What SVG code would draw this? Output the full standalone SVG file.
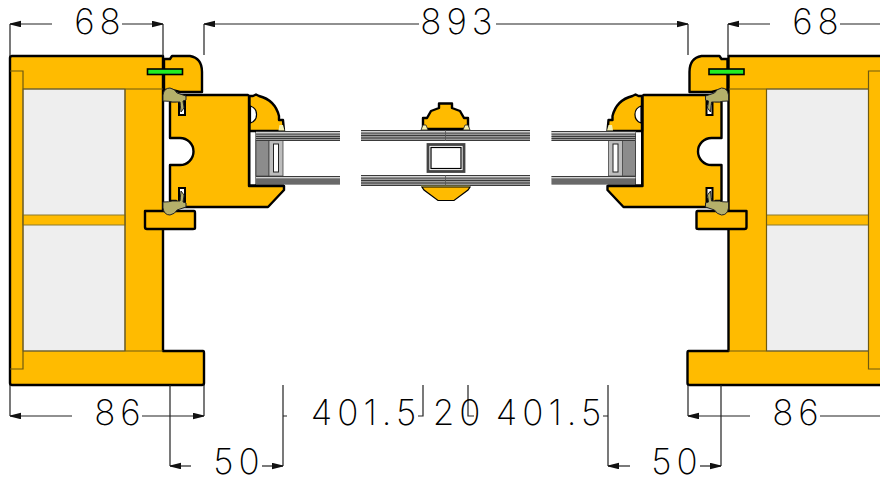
<svg xmlns="http://www.w3.org/2000/svg" xmlns:xlink="http://www.w3.org/1999/xlink" width="880" height="482" viewBox="0 0 880 482">
<style>
.y{fill:#ffbb00;stroke:#000;stroke-width:2.4;stroke-linejoin:round}
.t{fill:none;stroke:#6f5a10;stroke-width:1.2}
.s{fill:#b5b06a;stroke:#222;stroke-width:1}
.d{fill:none;stroke:#222;stroke-width:1.2}
.l{stroke:#222;stroke-width:0.800;fill:none}
.w{stroke:#fff;stroke-width:0.800;fill:none}
.n{font-family:"Inter","Liberation Sans",sans-serif;font-weight:150;font-size:35px;fill:#000;text-anchor:middle;letter-spacing:5px}
</style>
<defs>
<marker id="a" markerWidth="12" markerHeight="7" refX="11" refY="3.250" orient="auto-start-reverse" markerUnits="userSpaceOnUse"><path d="M0 0L11 2.700V3.800L0 6.500Z" fill="#111"/></marker>
<g id="frame">
<path class="y" d="M12 56H163V351H203Q204 351 204 353V383Q204 385 202 385H12Q10 385 10 383V58Q10 56 12 56Z"/>
<rect x="23" y="89" width="102" height="262" fill="#eeeeee" stroke="#777" stroke-width="1"/>
<rect x="23" y="215" width="102" height="10" fill="#ffbb00" stroke="#8a7a30" stroke-width="1"/>
<path class="t" d="M10 71H23V369H10M23 89H163M23 351H163M125 89V351"/>
<path class="y" d="M145 211H194Q195 211 195 213V228Q195 229 193 229H147Q145 229 145 227Z"/>
</g>
<g id="head">
<path class="y" d="M164 59H170L172 56H190Q202 58 202 72V92H180L172 90H164Z"/>
<rect x="147.500" y="69" width="35" height="5.500" fill="#22ee22" stroke="#000" stroke-width="1.600"/>
</g>
<g id="seal">
<rect x="178" y="98" width="8" height="18" fill="#000"/>
<path d="M180 105H184V114H180Z" fill="#fff"/>
<path class="s" d="M163 95Q164 88 170 88Q175 89 177 93L186 96V100L183 101L184 108L181 112L180 102H172Q170 101 163 101Z"/>
</g>
<g id="sash">
<path class="y" d="M176 95H248L249 96V186H284V190L268 207H176V201H170V165H180A13.500 13.500 0 0 0 180 138H170V101H176Z"/>
<use xlink:href="#seal"/>
<use xlink:href="#seal" transform="matrix(1 0 0 -1 0 303)"/>
<rect x="250" y="131" width="6" height="54" fill="#fff" stroke="#000" stroke-width="1"/>
<rect x="256" y="140" width="13" height="36" fill="#8c8c8c" stroke="#444" stroke-width="0.800"/>
<rect x="269" y="140" width="14" height="36" fill="#bdbdbd" stroke="#444" stroke-width="0.800"/>
<rect x="273.500" y="144" width="5" height="28" fill="#fff" stroke="#222" stroke-width="1"/>
<path class="y" d="M249.500 96H253L256 94.500L259 96Q275 100 279 116V120H283L284 131H249.500Z"/>
<path d="M250.500 106A9 9 0 0 1 250.500 123Z" fill="#fff" stroke="#000" stroke-width="1.200"/>
<path d="M279.500 125H283L284.500 130.500H278.500Z" fill="#f5f0b0"/>
<use xlink:href="#band"/>
<path d="M250 185.500H284" stroke="#000" stroke-width="2"/>
</g>
<g id="band">
<rect x="256" y="131" width="84" height="10" fill="#9a9a9a"/>
<path class="l" d="M256 131.500H340M256 134H340M256 136.500H340M256 138.500H340M256 140.500H340"/>
<path class="w" d="M256 132.800H340"/>
<rect x="256" y="176" width="84" height="9" fill="#9a9a9a"/>
<path class="l" d="M256 176.500H340M256 179H340M256 181H340M256 183H340"/>
<path class="w" d="M256 177.800H340"/>
</g>
</defs>

<g id="left-frame"><use xlink:href="#frame"/><use xlink:href="#head"/></g>
<g id="right-frame"><use xlink:href="#frame" transform="matrix(-1 0 0 1 891.500 0)"/><use xlink:href="#head" transform="matrix(-1 0 0 1 891.500 0)"/></g>
<g id="left-sash"><use xlink:href="#sash"/></g>
<g id="right-sash"><use xlink:href="#sash" transform="matrix(-1 0 0 1 891.500 0)"/></g>

<g id="center-mullion">
<path class="y" d="M423 129V118H427L431 111L439 108V103.500H452V108L460 111L464 118H468V129Z"/>
<path d="M421 130L423 125H426L428 130ZM463 130L465 125H468L470 130Z" fill="#f5f0b0" stroke="#222" stroke-width="0.800"/>
<rect x="361" y="130" width="169" height="11" fill="#9a9a9a"/>
<path class="l" d="M361 130.500H530M361 133H530M361 135.500H530M361 138H530M361 140.500H530"/>
<path class="w" d="M361 131.800H530"/>
<rect x="361" y="175" width="169" height="11" fill="#9a9a9a"/>
<path class="l" d="M361 175.500H530M361 178H530M361 180.500H530M361 183H530M361 185.500H530"/>
<path class="w" d="M361 176.800H530"/>
<path d="M445.500 130V141M445.500 175V186" stroke="#555" stroke-width="0.800"/>
<rect x="428" y="144.500" width="36" height="27" fill="#fff" stroke="#444" stroke-width="2.800"/>
<rect x="431" y="147.500" width="30" height="21" fill="none" stroke="#000" stroke-width="1.200"/>
<path d="M422 187H470L468 190L454 200.500H438L424 190Z" fill="#ffbb00" stroke="#000" stroke-width="1.200"/>
<path d="M421 186H470" stroke="#6f6a30" stroke-width="1.500"/>
</g>

<g id="dimensions">
<path class="d" d="M10 56V24M163 56V24M204 55V24M688 55V24M728 56V24M10 385V416M204 385V416M688 385V416M170 385V466M283 385V466M721 385V466M608 385V466M423 385V416H418M283 416H287M468 385V416H474M608 416H603"/>
<path class="d" marker-start="url(#a)" d="M10 24H52"/>
<path class="d" marker-end="url(#a)" d="M122 24H163"/>
<path class="d" marker-start="url(#a)" d="M204 24H419"/>
<path class="d" marker-end="url(#a)" d="M496 24H688"/>
<path class="d" marker-start="url(#a)" d="M728 24H770"/>
<path class="d" d="M840 24H880"/>
<path class="d" marker-start="url(#a)" d="M10 416H72"/>
<path class="d" marker-end="url(#a)" d="M142 416H204"/>
<path class="d" marker-start="url(#a)" d="M688 416H750"/>
<path class="d" d="M820 416H880"/>
<path class="d" marker-start="url(#a)" d="M170 466H191"/>
<path class="d" marker-end="url(#a)" d="M262 466H283"/>
<path class="d" marker-start="url(#a)" d="M608 466H630"/>
<path class="d" marker-end="url(#a)" d="M700 466H721"/>
</g>

<g id="labels">
<text class="n" x="100" y="34">68</text>
<text class="n" x="459" y="34">893</text>
<text class="n" x="818" y="34">68</text>
<text class="n" x="120" y="425">86</text>
<text class="n" x="798" y="425">86</text>
<text class="n" x="239" y="473.500">50</text>
<text class="n" x="677" y="473.500">50</text>
<text class="n" x="366" y="425">401.5</text>
<text class="n" x="459" y="425">20</text>
<text class="n" x="551" y="425">401.5</text>
</g>
</svg>
